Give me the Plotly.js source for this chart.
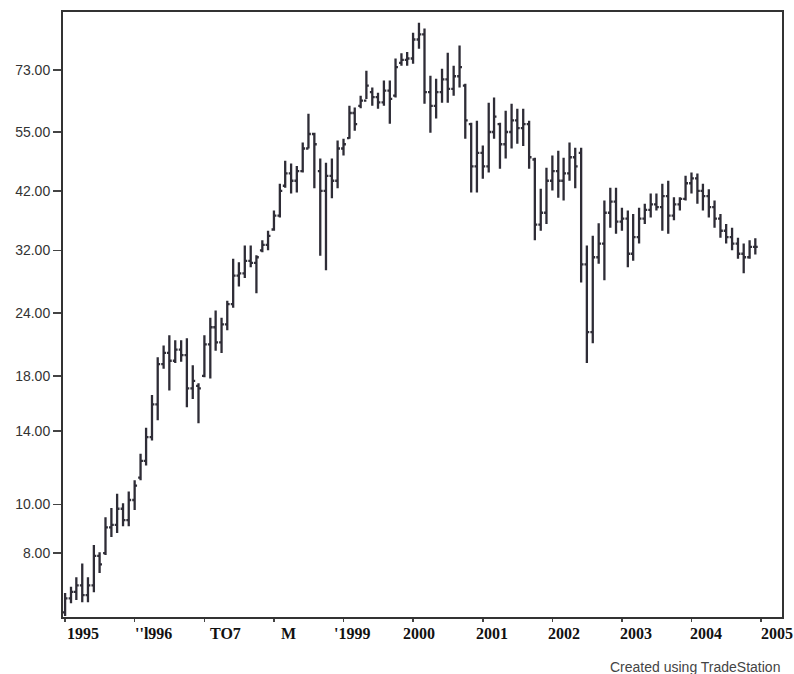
<!DOCTYPE html>
<html>
<head>
<meta charset="utf-8">
<script src="https://cdn.plot.ly/plotly-3.0.1.min.js"></script>
<style>html,body{margin:0;padding:0;background:#fff;}#chart{width:794px;height:674px;}</style>
</head>
<body>
<div id="chart"></div>
<script>
// Monthly bars, Jan 1995 .. Dec 2004
var startYear = 1995;
var openVals = [
6.1,6.5,6.7,6.9,6.6,6.9,7.9,8.0,9.0,9.1,9.8,9.3,
10.2,11.3,12.2,13.6,15.8,19.0,20.0,19.3,20.3,19.8,17.0,17.2,
18.0,20.8,22.5,21.0,22.8,25.0,28.5,28.8,30.5,30.2,32.0,32.8,
35.2,37.5,43.0,45.5,44.0,46.0,51.0,54.5,46.0,42.0,45.0,44.0,
51.0,53.5,60.0,62.0,63.5,66.0,64.5,63.0,66.5,65.0,75.5,76.5,
77.0,84.0,86.0,66.0,62.0,66.0,70.0,67.0,71.0,68.0,57.0,47.0,
50.0,47.0,55.0,57.0,52.0,55.0,58.0,56.0,57.0,48.5,36.0,38.0,
44.0,46.0,44.0,45.5,49.0,50.0,30.0,22.0,31.0,33.0,38.0,40.0,
36.5,37.0,31.5,34.0,37.0,38.5,39.5,39.0,41.0,37.5,39.5,40.5,
43.5,44.5,42.0,41.0,39.0,37.0,35.0,34.0,33.0,31.5,31.0,32.5
];
var highVals = [
6.66,6.86,7.16,7.63,7.16,8.30,8.03,9.43,9.83,10.5,10.05,10.6,
11.17,12.6,14.2,16.5,19.6,20.7,21.7,21.2,21.2,21.4,18.9,17.4,
21.7,23.5,24.3,23.5,25.4,30.8,30.3,32.7,32.7,31.3,33.5,35.0,
38.4,43.4,48.2,47.6,47.1,52.4,59.8,54.8,48.7,47.8,48.7,52.9,
53.3,62.0,61.5,64.9,72.8,67.4,65.8,69.6,69.6,77.0,78.9,79.3,
86.6,90.7,88.3,71.2,70.2,73.5,79.1,74.5,81.7,68.6,57.4,57.9,
51.7,62.9,64.4,57.4,60.6,62.6,61.2,61.2,57.9,48.9,42.4,46.7,
49.4,50.5,48.9,52.4,51.2,51.2,32.7,34.2,36.2,40.2,42.6,42.6,
38.9,38.4,37.8,38.9,39.6,41.5,41.5,43.4,44.0,40.8,40.8,45.0,
45.7,45.5,43.4,42.3,40.2,37.8,36.1,35.5,33.9,33.0,33.5,33.8
];
var lowVals = [
6.0,6.36,6.45,6.39,6.39,6.69,7.30,7.93,8.61,8.77,9.05,9.05,
9.74,11.17,11.95,13.4,14.7,18.6,16.85,19.1,19.2,15.6,16.2,14.5,
17.9,17.8,20.2,20.0,22.2,24.6,27.1,28.2,29.6,26.3,31.7,32.0,
35.0,37.2,42.6,41.5,41.7,45.7,51.0,42.5,31.2,29.2,40.6,42.5,
49.4,53.3,55.3,61.3,64.0,62.0,61.2,62.0,57.1,64.4,74.5,74.5,
75.2,80.5,62.6,54.8,58.5,62.9,62.9,64.9,67.4,53.3,41.7,41.7,
44.4,45.7,53.3,46.5,48.7,51.0,52.1,51.6,46.5,33.5,35.0,36.1,
42.1,40.7,40.2,44.0,42.5,27.6,19.1,20.9,30.1,27.9,35.5,34.5,
35.0,29.6,30.5,33.0,36.1,37.2,38.4,35.0,34.5,36.7,38.4,40.2,
41.5,39.6,38.4,37.2,35.5,33.9,33.0,32.0,30.8,28.8,30.8,31.4
];
var closeVals = [
6.5,6.7,6.9,6.6,6.9,7.9,7.6,9.0,9.1,9.8,9.3,10.2,
10.9,12.2,13.6,15.8,19.0,20.0,19.3,20.3,19.8,17.0,17.6,17.0,
20.8,22.5,21.0,22.8,25.0,28.5,28.8,30.5,30.2,31.0,32.8,34.2,
37.5,42.0,45.5,44.0,46.0,51.0,54.5,52.0,42.0,45.0,44.0,51.0,
52.0,60.0,57.0,63.5,68.0,64.5,63.0,66.5,64.0,74.0,76.5,77.0,
84.0,86.0,66.0,62.0,66.0,70.0,67.0,71.0,74.0,58.0,47.0,50.0,
47.0,55.0,59.0,52.0,55.0,58.0,56.0,57.0,49.0,36.0,38.0,44.0,
46.0,44.0,45.5,49.0,47.0,30.0,22.0,31.0,33.0,38.0,40.0,36.5,
37.0,31.5,34.0,37.0,38.5,39.5,39.0,41.0,37.5,39.5,40.5,43.5,
44.5,42.0,41.0,39.0,37.0,35.0,34.0,33.0,31.5,31.0,32.5,32.5
];
var yTickVals = [8, 10, 14, 18, 24, 32, 42, 55, 73];
var yTickText = ["8.00", "10.00", "14.00", "18.00", "24.00", "32.00", "42.00", "55.00", "73.00"];
var yearLabels = ["1995", "''l996", "TO7", "M", "'1999", "2000", "2001", "2002", "2003", "2004", "2005"];
var labelShift = [18, 19, 21, 15, 8, 6, 9, 12, 14, 15, 16];

var months = [];
for (var i = 0; i < openVals.length; i++) {
  var y = startYear + Math.floor(i / 12), m = (i % 12) + 1;
  months.push(y + "-" + (m < 10 ? "0" + m : m) + "-01");
}

var barColor = "#2e2c36";
var trace = {
  type: "ohlc",
  x: months, open: openVals, high: highVals, low: lowVals, close: closeVals,
  increasing: {line: {color: barColor, width: 2.3}},
  decreasing: {line: {color: barColor, width: 2.3}},
  tickwidth: 0.45,
  hoverinfo: "skip",
  showlegend: false
};

var annotations = yearLabels.map(function (t, k) {
  return {
    text: "<b>" + t + "</b>", xref: "x", yref: "paper",
    x: (startYear + k) + "-01-01", y: 0,
    xanchor: "center", yanchor: "middle",
    xshift: labelShift[k], yshift: -16,
    showarrow: false,
    font: {family: "Liberation Serif, Times New Roman, serif", size: 16, color: "#111"}
  };
});
annotations.push({
  text: "Created using TradeStation", xref: "paper", yref: "paper",
  x: 1, y: 0, xanchor: "right", yanchor: "middle", yshift: -50,
  showarrow: false,
  font: {family: "Liberation Sans, Arial, sans-serif", size: 14, color: "#444"}
});

var layout = {
  width: 794, height: 674,
  margin: {l: 63, r: 12, t: 12, b: 57},
  paper_bgcolor: "#ffffff", plot_bgcolor: "#ffffff",
  showlegend: false,
  xaxis: {
    type: "date",
    range: ["1994-12-21", "2005-04-20"],
    rangeslider: {visible: false},
    showgrid: false, zeroline: false,
    showline: true, linecolor: "#333", linewidth: 2, mirror: true,
    ticks: "outside", ticklen: 3, tickcolor: "#444", tickwidth: 1.5,
    tickvals: yearLabels.map(function (t, k) { return (startYear + k) + "-01-01"; }),
    showticklabels: false
  },
  yaxis: {
    type: "log",
    range: [0.776, 1.979],
    showgrid: false, zeroline: false,
    showline: true, linecolor: "#333", linewidth: 2, mirror: true,
    ticks: "outside", ticklen: 8, tickcolor: "#444", tickwidth: 1.5,
    tickvals: yTickVals, ticktext: yTickText,
    tickfont: {family: "Liberation Sans, Arial, sans-serif", size: 14, color: "#333"}
  },
  annotations: annotations
};

Plotly.newPlot("chart", [trace], layout, {displayModeBar: false, staticPlot: true});
</script>
</body>
</html>
